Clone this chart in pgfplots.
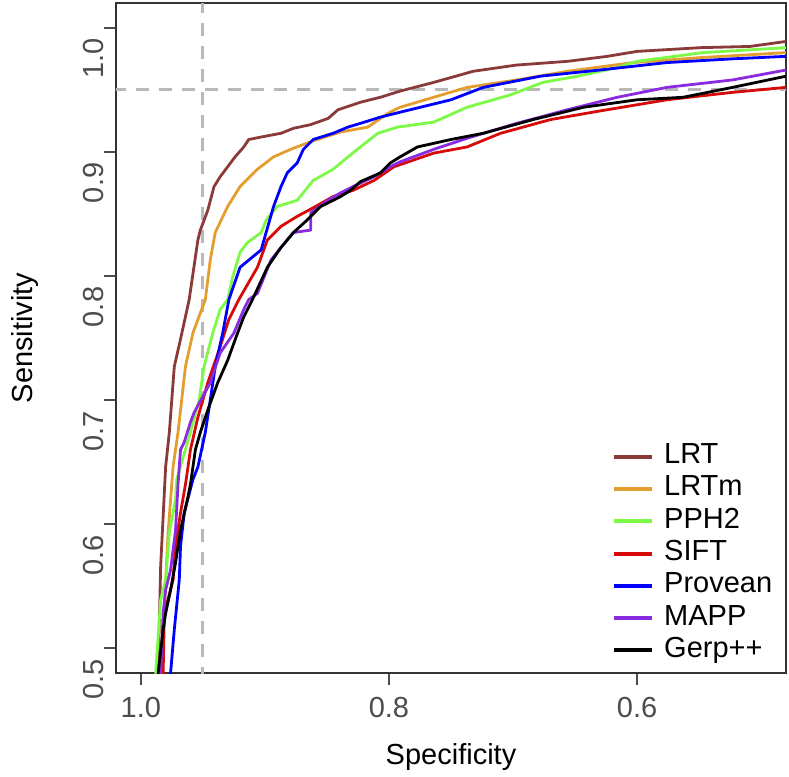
\documentclass[border=0pt]{standalone}
\usepackage{fontspec}
\setmainfont{Liberation Sans}
\usepackage{pgfplots}
\pgfplotsset{compat=1.18}

\definecolor{cLRT}{RGB}{139,58,58}
\definecolor{cLRTm}{RGB}{228,158,48}
\definecolor{cPPH}{RGB}{125,250,70}
\definecolor{cSIFT}{RGB}{215,10,10}
\definecolor{cProv}{RGB}{0,0,255}
\definecolor{cMAPP}{RGB}{138,43,226}
\definecolor{refgray}{RGB}{185,185,185}

\newcommand{\txtfont}{\fontsize{14.5}{17}\selectfont}

\begin{document}
\begin{tikzpicture}
\begin{axis}[
  name=ax,
  scale only axis,
  width=335pt, height=335pt,
  x dir=reverse,
  xmin=0.48, xmax=1.02,
  ymin=0.48, ymax=1.02,
  xtick={0.6,0.8,1.0},
  ytick={0.5,0.6,0.7,0.8,0.9,1.0},
  xtick pos=left, ytick pos=left,
  tick align=outside,
  major tick length=6pt,
  every tick/.style={black!70, line width=0.7pt},
  axis line style={black!80, line width=0.8pt},
  /pgf/number format/assume math mode=true,
  /pgf/number format/.cd, fixed, fixed zerofill, precision=1, /pgfplots/.cd,
  tick label style={font=\txtfont, text=black!70},
  xticklabel style={anchor=base, yshift=-16pt},
  yticklabel style={rotate=90, anchor=base, xshift=-15.5pt},
  xlabel={Specificity},
  ylabel={Sensitivity},
  every axis x label/.style={at={(axis description cs:0.5,-0.136)}, anchor=base, font=\txtfont},
  every axis y label/.style={at={(axis description cs:-0.124,0.5)}, anchor=base, rotate=90, font=\txtfont},
  legend style={draw=none, fill=none, inner sep=0pt, outer sep=0pt,
    font=\txtfont, at={(rel axis cs:0.740,0.347)}, anchor=north west,
    nodes={inner sep=1pt, text height=10.5pt, text depth=3.65pt}},
  legend cell align=left,
  legend image code/.code={\draw[line width=2pt] (0pt,0pt) -- (19pt,0pt); \path (23.5pt,0pt);},
  every axis plot/.append style={line width=1.4pt, line join=round},
]
% reference lines at 0.95
\addplot[refgray, line width=1.5pt, dash pattern=on 6.5pt off 5pt, forget plot] coordinates {(0.95,0.40) (0.95,1.10)};
\addplot[refgray, line width=1.5pt, dash pattern=on 6.5pt off 5pt, forget plot] coordinates {(0.40,0.95) (1.10,0.95)};

% LRT
\addplot[cLRT] coordinates {
(0.988,0.460) (0.986,0.480) (0.984,0.566) (0.980,0.646) (0.977,0.674) (0.973,0.727)
(0.968,0.749) (0.961,0.781) (0.954,0.829) (0.952,0.837) (0.946,0.853) (0.941,0.872)
(0.936,0.880) (0.930,0.888) (0.924,0.896) (0.917,0.904) (0.913,0.910) (0.903,0.912)
(0.887,0.915) (0.877,0.919) (0.863,0.922) (0.849,0.927) (0.841,0.934) (0.823,0.940)
(0.807,0.944) (0.791,0.949) (0.764,0.956) (0.732,0.965) (0.697,0.970) (0.656,0.973)
(0.624,0.977) (0.600,0.981) (0.549,0.984) (0.509,0.985) (0.480,0.989) (0.470,0.990)
};
\addlegendentry{LRT}
% LRTm
\addplot[cLRTm] coordinates {
(0.987,0.460) (0.986,0.480) (0.982,0.512) (0.978,0.593) (0.974,0.646) (0.970,0.674)
(0.964,0.727) (0.958,0.754) (0.948,0.781) (0.944,0.813) (0.940,0.835) (0.930,0.856)
(0.920,0.872) (0.906,0.886) (0.893,0.896) (0.877,0.903) (0.858,0.910) (0.839,0.916)
(0.817,0.920) (0.801,0.931) (0.791,0.936) (0.737,0.952) (0.697,0.958) (0.656,0.965)
(0.603,0.972) (0.549,0.976) (0.480,0.980) (0.470,0.981)
};
\addlegendentry{LRTm}
% PPH2
\addplot[cPPH] coordinates {
(0.989,0.460) (0.988,0.480) (0.984,0.539) (0.980,0.555) (0.977,0.593) (0.972,0.620)
(0.971,0.636) (0.960,0.674) (0.953,0.700) (0.949,0.727) (0.942,0.754) (0.936,0.773)
(0.930,0.781) (0.926,0.799) (0.920,0.819) (0.914,0.827) (0.903,0.835) (0.899,0.845)
(0.890,0.856) (0.874,0.861) (0.861,0.877) (0.845,0.886) (0.833,0.896) (0.823,0.904)
(0.809,0.915) (0.793,0.920) (0.764,0.924) (0.737,0.936) (0.702,0.946) (0.676,0.956)
(0.648,0.961) (0.616,0.968) (0.600,0.973) (0.547,0.980) (0.480,0.984) (0.470,0.985)
};
\addlegendentry{PPH2}
% SIFT
\addplot[cSIFT] coordinates {
(0.983,0.460) (0.982,0.480) (0.981,0.528) (0.974,0.555) (0.972,0.582) (0.968,0.609)
(0.964,0.632) (0.960,0.660) (0.954,0.686) (0.946,0.714) (0.937,0.740) (0.929,0.765)
(0.921,0.781) (0.906,0.807) (0.898,0.829) (0.887,0.840) (0.874,0.848) (0.861,0.855)
(0.845,0.864) (0.829,0.869) (0.812,0.877) (0.796,0.888) (0.764,0.899) (0.737,0.904)
(0.710,0.915) (0.670,0.926) (0.630,0.933) (0.576,0.942) (0.523,0.948) (0.480,0.952)
(0.470,0.953)
};
\addlegendentry{SIFT}
% Provean
\addplot[cProv] coordinates {
(0.977,0.460) (0.976,0.480) (0.973,0.515) (0.969,0.555) (0.968,0.582) (0.965,0.609)
(0.958,0.636) (0.954,0.646) (0.948,0.674) (0.944,0.700) (0.940,0.727) (0.934,0.754)
(0.929,0.781) (0.920,0.807) (0.903,0.821) (0.899,0.835) (0.893,0.856) (0.887,0.872)
(0.882,0.883) (0.874,0.891) (0.869,0.902) (0.861,0.910) (0.845,0.915) (0.833,0.920)
(0.823,0.923) (0.807,0.928) (0.791,0.932) (0.750,0.942) (0.724,0.952) (0.678,0.961)
(0.630,0.966) (0.576,0.972) (0.523,0.975) (0.480,0.977) (0.470,0.977)
};
\addlegendentry{Provean}
% MAPP
\addplot[cMAPP] coordinates {
(0.985,0.460) (0.984,0.480) (0.982,0.528) (0.980,0.547) (0.976,0.563) (0.972,0.595)
(0.970,0.632) (0.968,0.660) (0.965,0.666) (0.960,0.682) (0.957,0.690) (0.944,0.714)
(0.936,0.738) (0.925,0.754) (0.917,0.773) (0.913,0.781) (0.906,0.786) (0.895,0.813)
(0.887,0.823) (0.877,0.835) (0.863,0.837) (0.863,0.851) (0.849,0.861) (0.839,0.867)
(0.829,0.872) (0.812,0.880) (0.799,0.888) (0.791,0.892) (0.764,0.902) (0.737,0.911)
(0.697,0.923) (0.656,0.934) (0.616,0.944) (0.576,0.952) (0.523,0.958) (0.480,0.966)
(0.470,0.967)
};
\addlegendentry{MAPP}
% Gerp++
\addplot[black] coordinates {
(0.987,0.460) (0.986,0.480) (0.982,0.515) (0.980,0.528) (0.976,0.547) (0.972,0.569)
(0.968,0.595) (0.962,0.622) (0.960,0.632) (0.956,0.660) (0.952,0.674) (0.946,0.692)
(0.938,0.714) (0.930,0.732) (0.922,0.754) (0.917,0.767) (0.910,0.781) (0.898,0.807)
(0.887,0.823) (0.877,0.835) (0.866,0.845) (0.855,0.856) (0.839,0.864) (0.831,0.869)
(0.823,0.876) (0.807,0.883) (0.799,0.891) (0.791,0.896) (0.777,0.904) (0.750,0.910)
(0.724,0.915) (0.684,0.926) (0.643,0.936) (0.600,0.942) (0.563,0.944) (0.523,0.952)
(0.480,0.961) (0.470,0.962)
};
\addlegendentry{Gerp++}
\end{axis}
\pgfresetboundingbox
\path ([shift={(-58pt,-51.5pt)}]ax.south west) rectangle ([shift={(1.5pt,1.5pt)}]ax.north east);
\end{tikzpicture}
\end{document}
